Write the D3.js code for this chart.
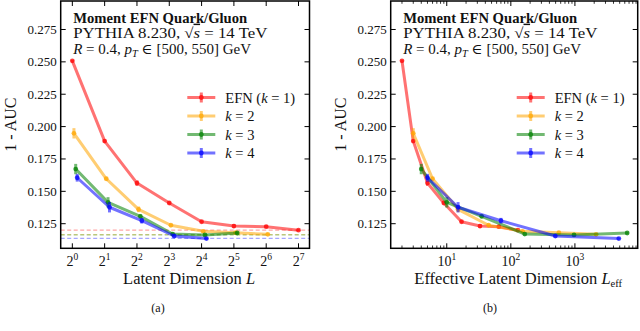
<!DOCTYPE html>
<html>
<head>
<meta charset="utf-8">
<script src="https://cdn.jsdelivr.net/npm/d3@7"></script>
<style>
  html, body { margin: 0; padding: 0; background: #fff; }
  svg { display: block; }
</style>
</head>
<body>
<svg id="chart" width="640" height="331"></svg>
<script>
// ---- data ----
const seriesNames = ["k1", "k2", "k3", "k4"];
const seriesLabels = ["EFN (k = 1)", "k = 2", "k = 3", "k = 4"];
const seriesColors = ["#ff0000", "#ffa500", "#008000", "#0000ff"];

// latent dimension L per series
const latentK1 = [1, 2, 4, 8, 16, 32, 64, 128];
const latentK2 = [1, 2, 4, 8, 16, 32, 64];
const latentK3 = [1, 2, 4, 8, 16, 32];
const latentK4 = [1, 2, 4, 8, 16];

// effective latent dimension per series
const effK1 = [2, 3, 5, 9, 17, 33, 65, 129];
const effK2 = [3, 6, 15, 45, 153, 561, 2145];
const effK3 = [4, 10, 35, 165, 969, 6545];
const effK4 = [5, 15, 70, 495, 4845];

// 1 - AUC
const aucK1 = [0.2508, 0.1888, 0.1564, 0.1410, 0.1265, 0.1232, 0.1227, 0.1200];
const aucK2 = [0.1948, 0.1597, 0.1361, 0.1238, 0.1191, 0.1180, 0.1168];
const aucK3 = [0.1672, 0.1415, 0.1307, 0.1170, 0.1163, 0.1178];
const aucK4 = [0.1605, 0.1377, 0.1273, 0.1155, 0.1135];

// error bar half-heights
const errK1 = [0.0008, 0.0010, 0.0022, 0.0010, 0.0008, 0.0016, 0.0010, 0.0008];
const errK2 = [0.0040, 0.0010, 0.0022, 0.0010, 0.0010, 0.0010, 0.0008];
const errK3 = [0.0040, 0.0040, 0.0015, 0.0010, 0.0010, 0.0010];
const errK4 = [0.0030, 0.0040, 0.0022, 0.0010, 0.0008];

// best value per series (dashed reference lines, panel a)
const bestAuc = [0.1200, 0.1166, 0.1164, 0.1137];

const yTicks = [0.125, 0.150, 0.175, 0.200, 0.225, 0.250, 0.275];
const latentTicks = [1, 2, 4, 8, 16, 32, 64, 128];
const effTicks = [10, 100, 1000];

const series = [
  { L: latentK1, eff: effK1, auc: aucK1, err: errK1 },
  { L: latentK2, eff: effK2, auc: aucK2, err: errK2 },
  { L: latentK3, eff: effK3, auc: aucK3, err: errK3 },
  { L: latentK4, eff: effK4, auc: aucK4, err: errK4 }
].map((s, i) => ({
  ...s,
  name: seriesNames[i],
  label: seriesLabels[i],
  color: seriesColors[i],
  best: bestAuc[i]
}));

// ---- drawing ----
const svg = d3.select("#chart");
const serif = "'Liberation Serif', 'DejaVu Serif', serif";
svg.style("font-family", serif);
svg.append("rect").attr("width", 640).attr("height", 331).attr("fill", "#fff");

const plotTop = 1, plotBottom = 248.3;
const y = d3.scaleLinear().domain([0.106, 0.297]).range([plotBottom, plotTop]);

// small horizontal dodge used in panel (a) so the error bars don't overlap
const dodge = [1, 1.035, 1.075, 1.11];

function drawPanel(opts) {
  const { x, ticks, minorTicks, xOf, dashed, tickLabel, xLabel, xLabelSub, tag, tagX, legendX } = opts;
  const [x0, x1] = x.range();
  const g = svg.append("g");

  // 1. dashed best-value lines
  if (dashed) {
    series.forEach(s => {
      g.append("line")
        .attr("x1", x0).attr("x2", x1)
        .attr("y1", y(s.best)).attr("y2", y(s.best))
        .attr("stroke", s.color)
        .attr("stroke-opacity", 0.35)
        .attr("stroke-width", 1.1)
        .attr("stroke-dasharray", "4,2.5");
    });
  }

  // 2. series lines, error bars and points
  const line = d3.line().x(d => d.px).y(d => y(d.v));
  series.forEach((s, si) => {
    const pts = s.auc.map((v, i) => ({ px: xOf(s, si, i), v, e: s.err[i] }));
    const sg = g.append("g").attr("opacity", 0.55);
    sg.append("path")
      .datum(pts)
      .attr("fill", "none")
      .attr("stroke", s.color)
      .attr("stroke-width", 3)
      .attr("stroke-linejoin", "round")
      .attr("d", line);
    sg.selectAll("line.err")
      .data(pts)
      .join("line")
      .attr("x1", d => d.px).attr("x2", d => d.px)
      .attr("y1", d => y(d.v - d.e)).attr("y2", d => y(d.v + d.e))
      .attr("stroke", s.color)
      .attr("stroke-width", 3);
    g.selectAll(null)
      .data(pts)
      .join("circle")
      .attr("cx", d => d.px).attr("cy", d => y(d.v))
      .attr("r", 2.4)
      .attr("fill", s.color)
      .attr("opacity", 0.75);
  });

  // 3. frame with inward ticks on every side
  g.append("rect")
    .attr("x", x0).attr("y", plotTop)
    .attr("width", x1 - x0).attr("height", plotBottom - plotTop)
    .attr("fill", "none").attr("stroke", "#000").attr("stroke-width", 1.5);

  const tickLen = 5, minorLen = 2.8;
  yTicks.forEach(t => {
    g.append("line").attr("x1", x0).attr("x2", x0 + tickLen)
      .attr("y1", y(t)).attr("y2", y(t)).attr("stroke", "#000").attr("stroke-width", 1);
    g.append("line").attr("x1", x1).attr("x2", x1 - tickLen)
      .attr("y1", y(t)).attr("y2", y(t)).attr("stroke", "#000").attr("stroke-width", 1);
    g.append("text")
      .attr("x", x0 - 4).attr("y", y(t) + 4.5)
      .attr("text-anchor", "end")
      .attr("font-size", "13px")
      .attr("fill", "#111")
      .text(d3.format(".3f")(t));
  });
  ticks.forEach(t => {
    g.append("line").attr("x1", x(t)).attr("x2", x(t))
      .attr("y1", plotBottom).attr("y2", plotBottom - tickLen).attr("stroke", "#000").attr("stroke-width", 1);
    g.append("line").attr("x1", x(t)).attr("x2", x(t))
      .attr("y1", plotTop).attr("y2", plotTop + tickLen).attr("stroke", "#000").attr("stroke-width", 1);
    tickLabel(g, t, x(t));
  });
  (minorTicks || []).forEach(t => {
    g.append("line").attr("x1", x(t)).attr("x2", x(t))
      .attr("y1", plotBottom).attr("y2", plotBottom - minorLen).attr("stroke", "#000").attr("stroke-width", 0.8);
    g.append("line").attr("x1", x(t)).attr("x2", x(t))
      .attr("y1", plotTop).attr("y2", plotTop + minorLen).attr("stroke", "#000").attr("stroke-width", 0.8);
  });

  // 4. title block (Liberation Serif is narrower than the TeX font, so stretch a bit)
  const tx = x0 + 12.5;
  g.append("text")
    .attr("transform", `translate(${tx},23) scale(1.01,1)`)
    .attr("font-size", "14.5px").attr("font-weight", "bold").attr("fill", "#111")
    .text("Moment EFN Quark/Gluon");
  const l2 = g.append("text")
    .attr("transform", `translate(${tx},37.5) scale(1.16,1)`)
    .attr("font-size", "14.5px").attr("fill", "#111");
  l2.append("tspan").text("PYTHIA 8.230, √");
  l2.append("tspan").attr("font-style", "italic").style("text-decoration", "overline").text("s");
  l2.append("tspan").text(" = 14 TeV");
  const l3 = g.append("text")
    .attr("transform", `translate(${tx},53.5) scale(1.035,1)`)
    .attr("font-size", "14.5px").attr("fill", "#111");
  l3.append("tspan").attr("font-style", "italic").text("R");
  l3.append("tspan").text(" = 0.4, ");
  l3.append("tspan").attr("font-style", "italic").text("p");
  l3.append("tspan").attr("font-style", "italic").attr("font-size", "10px").attr("dy", 3).text("T");
  l3.append("tspan").attr("dy", -3).text(" ∈ [500, 550] GeV");

  // 5. legend
  const rowY = [97.5, 116, 134.5, 153];
  series.forEach((s, i) => {
    const ly = rowY[i];
    const lg = g.append("g").attr("opacity", 0.55);
    lg.append("line").attr("x1", legendX).attr("x2", legendX + 28)
      .attr("y1", ly).attr("y2", ly).attr("stroke", s.color).attr("stroke-width", 3);
    lg.append("line").attr("x1", legendX + 14).attr("x2", legendX + 14)
      .attr("y1", ly - 5).attr("y2", ly + 5).attr("stroke", s.color).attr("stroke-width", 3);
    g.append("circle").attr("cx", legendX + 14).attr("cy", ly).attr("r", 2.4)
      .attr("fill", s.color).attr("opacity", 0.75);

    const t = g.append("text")
      .attr("x", legendX + 38).attr("y", ly + 5)
      .attr("font-size", "14.5px").attr("fill", "#111");
    if (i === 0) {
      t.append("tspan").text("EFN (");
      t.append("tspan").attr("font-style", "italic").text("k");
      t.append("tspan").text(" = 1)");
    } else {
      t.append("tspan").attr("font-style", "italic").text("k");
      t.append("tspan").text(" = " + (i + 1));
    }
  });

  // 6. axis labels
  g.append("text")
    .attr("transform", `translate(${x0 - 45},${(plotTop + plotBottom) / 2}) rotate(-90)`)
    .attr("text-anchor", "middle")
    .attr("font-size", "16px").attr("fill", "#111")
    .text("1 - AUC");

  const xl = g.append("text")
    .attr("x", (x0 + x1) / 2 + 4).attr("y", 284)
    .attr("text-anchor", "middle")
    .attr("font-size", "16.5px").attr("fill", "#111");
  xl.append("tspan").text(xLabel + " ");
  xl.append("tspan").attr("font-style", "italic").text("L");
  if (xLabelSub) {
    xl.append("tspan").attr("font-size", "10.5px").attr("dy", 3).text(xLabelSub);
  }

  g.append("text")
    .attr("x", tagX).attr("y", 312)
    .attr("text-anchor", "middle")
    .attr("font-size", "12px").attr("fill", "#111")
    .text(tag);
}

// panel (a): latent dimension, base-2 log axis
const xA = d3.scaleLog().base(2).domain([Math.pow(2, -0.36), Math.pow(2, 7.34)]).range([60.7, 309.5]);
drawPanel({
  x: xA,
  ticks: latentTicks,
  xOf: (s, si, i) => xA(s.L[i] * dodge[si]),
  dashed: true,
  tickLabel: (g, t, px) => {
    const lbl = g.append("text")
      .attr("x", px).attr("y", 265.5)
      .attr("text-anchor", "middle")
      .attr("font-size", "14px").attr("fill", "#111");
    lbl.append("tspan").text("2");
    lbl.append("tspan").attr("font-size", "9.5px").attr("dy", -6).text(Math.round(Math.log2(t)));
  },
  xLabel: "Latent Dimension",
  tag: "(a)",
  tagX: 158,
  legendX: 187.3
});

// panel (b): effective latent dimension, base-10 log axis
const xB = d3.scaleLog().domain([Math.pow(10, 0.125), Math.pow(10, 3.98)]).range([390.7, 637.7]);
const minorB = [];
[1, 10, 100, 1000].forEach(dec => {
  for (let m = 2; m <= 9; m++) {
    const v = dec * m;
    if (v >= xB.domain()[0] && v <= xB.domain()[1]) minorB.push(v);
  }
});
drawPanel({
  x: xB,
  ticks: effTicks,
  minorTicks: minorB,
  xOf: (s, si, i) => xB(s.eff[i]),
  dashed: false,
  tickLabel: (g, t, px) => {
    const lbl = g.append("text")
      .attr("x", px).attr("y", 265.5)
      .attr("text-anchor", "middle")
      .attr("font-size", "14px").attr("fill", "#111");
    lbl.append("tspan").text("10");
    lbl.append("tspan").attr("font-size", "9.5px").attr("dy", -6).text(Math.round(Math.log10(t)));
  },
  xLabel: "Effective Latent Dimension",
  xLabelSub: "eff",
  tag: "(b)",
  tagX: 490,
  legendX: 516.7
});
</script>
</body>
</html>
